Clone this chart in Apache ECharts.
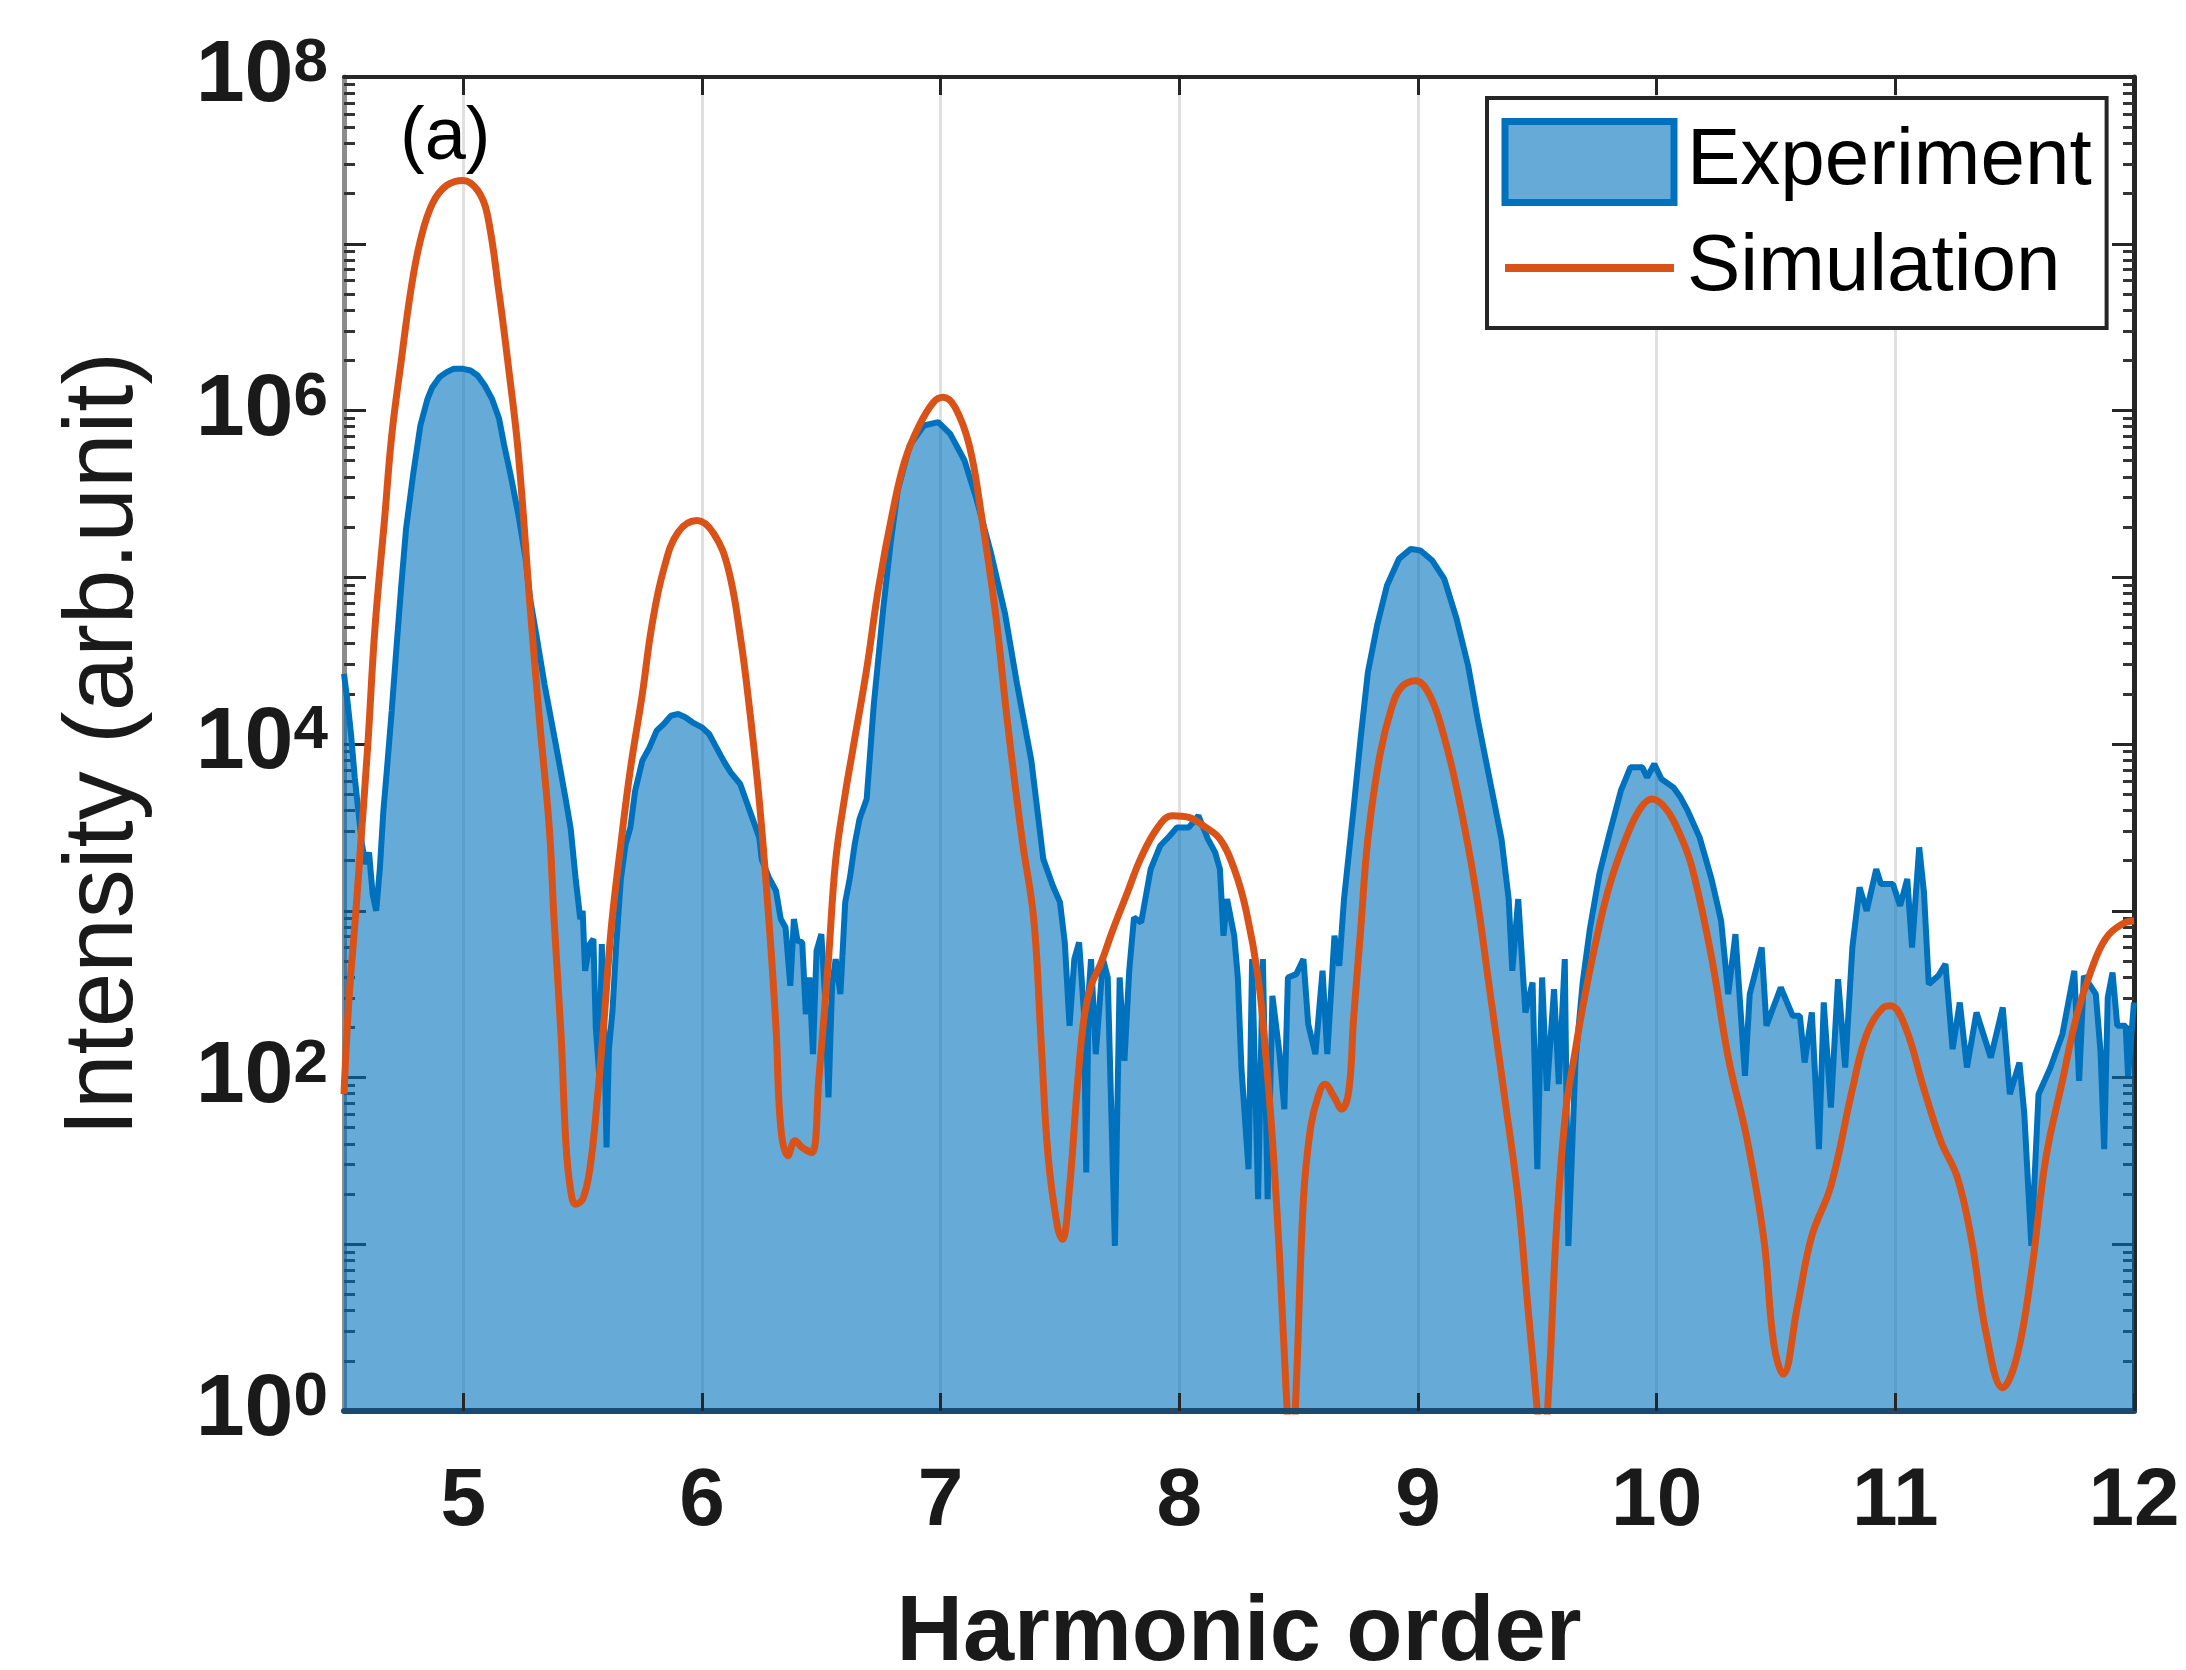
<!DOCTYPE html>
<html>
<head>
<meta charset="utf-8">
<script src="https://cdn.jsdelivr.net/npm/echarts@6/dist/echarts.min.js"></script>
<style>
  html, body { margin: 0; padding: 0; background: #fff; }
  #chart { width: 2186px; height: 1670px; }
</style>
</head>
<body>
<div id="chart"></div>
<script>
// harmonic order ticks and intensity decades (exponents of 10)
const harmonicTicks = [5, 6, 7, 8, 9, 10, 11, 12];
const decadeLabels = [0, 2, 4, 6, 8];
const decadeTicks = [0, 1, 2, 3, 4, 5, 6, 7, 8];

// Experiment: harmonic order, log10(intensity)
const expOrder = [
  4.500, 4.515, 4.530, 4.545, 4.560, 4.575, 4.590, 4.605, 4.620, 4.635, 4.650, 4.665, 4.680, 4.700, 4.720, 4.740,
  4.760, 4.790, 4.820, 4.850, 4.870, 4.900, 4.930, 4.960, 5.000, 5.030, 5.060, 5.090, 5.120, 5.150, 5.170, 5.200,
  5.230, 5.260, 5.280, 5.310, 5.340, 5.370, 5.400, 5.430, 5.450, 5.470, 5.490, 5.500, 5.510, 5.530, 5.545, 5.555,
  5.570, 5.580, 5.590, 5.600, 5.610, 5.625, 5.640, 5.660, 5.680, 5.700, 5.720, 5.750, 5.780, 5.810, 5.840, 5.870,
  5.900, 5.930, 5.960, 6.000, 6.030, 6.060, 6.090, 6.120, 6.160, 6.200, 6.240, 6.250, 6.280, 6.310, 6.330, 6.350,
  6.370, 6.385, 6.400, 6.420, 6.435, 6.450, 6.465, 6.480, 6.500, 6.515, 6.530, 6.545, 6.560, 6.580, 6.600, 6.620,
  6.640, 6.660, 6.690, 6.720, 6.760, 6.790, 6.820, 6.870, 6.930, 6.990, 7.040, 7.100, 7.150, 7.210, 7.270, 7.320,
  7.380, 7.430, 7.470, 7.500, 7.520, 7.540, 7.560, 7.580, 7.600, 7.610, 7.620, 7.630, 7.650, 7.680, 7.700, 7.730,
  7.750, 7.770, 7.790, 7.810, 7.840, 7.880, 7.920, 7.960, 7.990, 8.040, 8.080, 8.120, 8.150, 8.170, 8.185, 8.200,
  8.230, 8.245, 8.260, 8.290, 8.305, 8.330, 8.350, 8.370, 8.390, 8.420, 8.440, 8.455, 8.490, 8.520, 8.540, 8.570,
  8.600, 8.620, 8.650, 8.670, 8.690, 8.730, 8.760, 8.790, 8.830, 8.870, 8.920, 8.970, 9.010, 9.060, 9.110, 9.160,
  9.210, 9.250, 9.300, 9.350, 9.380, 9.395, 9.420, 9.450, 9.480, 9.500, 9.520, 9.540, 9.570, 9.590, 9.615, 9.630,
  9.660, 9.690, 9.720, 9.760, 9.800, 9.850, 9.890, 9.940, 9.960, 9.990, 10.020, 10.070, 10.100, 10.130, 10.180, 10.230,
  10.270, 10.300, 10.330, 10.370, 10.390, 10.440, 10.460, 10.520, 10.570, 10.600, 10.620, 10.650, 10.680, 10.700, 10.730, 10.760,
  10.790, 10.820, 10.850, 10.880, 10.920, 10.940, 10.990, 11.020, 11.050, 11.070, 11.100, 11.120, 11.140, 11.180, 11.210, 11.240,
  11.270, 11.300, 11.340, 11.400, 11.450, 11.480, 11.520, 11.540, 11.570, 11.600, 11.650, 11.700, 11.750, 11.770, 11.790, 11.840,
  11.860, 11.875, 11.890, 11.910, 11.930, 11.965, 11.975, 12.000
];
const expLog10 = [
  4.42, 4.25, 4.05, 3.80, 3.60, 3.40, 3.28, 3.35, 3.10, 3.00, 3.25, 3.60, 3.85, 4.20, 4.58, 4.95,
  5.29, 5.62, 5.91, 6.07, 6.14, 6.20, 6.23, 6.25, 6.25, 6.24, 6.21, 6.15, 6.07, 5.95, 5.80, 5.60,
  5.38, 5.12, 4.87, 4.62, 4.36, 4.13, 3.90, 3.66, 3.49, 3.20, 2.95, 3.00, 2.64, 2.80, 2.83, 2.30,
  2.00, 2.80, 2.35, 1.58, 2.17, 2.40, 2.78, 3.19, 3.40, 3.50, 3.72, 3.90, 3.98, 4.08, 4.12, 4.17,
  4.18, 4.16, 4.13, 4.10, 4.06, 3.98, 3.90, 3.83, 3.76, 3.60, 3.44, 3.31, 3.20, 3.12, 2.95, 2.90,
  2.55, 2.95, 2.82, 2.81, 2.38, 2.60, 2.14, 2.76, 2.86, 2.50, 1.88, 2.55, 2.71, 2.50, 3.05, 3.20,
  3.40, 3.55, 3.67, 4.24, 4.82, 5.20, 5.52, 5.79, 5.91, 5.93, 5.86, 5.70, 5.47, 5.15, 4.78, 4.36,
  3.90, 3.31, 3.15, 3.05, 2.81, 2.31, 2.71, 2.81, 2.40, 1.43, 2.50, 2.71, 2.14, 2.71, 2.60, 0.99,
  2.60, 2.10, 2.64, 2.96, 2.93, 3.25, 3.39, 3.45, 3.50, 3.50, 3.57, 3.43, 3.35, 3.25, 2.85, 3.07,
  2.85, 2.60, 2.06, 1.45, 2.71, 1.27, 2.71, 1.27, 2.49, 2.14, 1.81, 2.60, 2.62, 2.71, 2.32, 2.14,
  2.64, 2.14, 2.85, 2.67, 3.07, 3.61, 4.04, 4.43, 4.72, 4.95, 5.11, 5.17, 5.16, 5.10, 4.99, 4.76,
  4.47, 4.15, 3.79, 3.43, 3.07, 2.64, 3.07, 2.39, 2.57, 1.45, 2.60, 1.92, 2.53, 1.96, 2.71, 0.99,
  2.10, 2.57, 2.89, 3.22, 3.45, 3.72, 3.86, 3.86, 3.80, 3.88, 3.79, 3.74, 3.68, 3.60, 3.44, 3.19,
  2.94, 2.50, 2.86, 2.01, 2.50, 2.78, 2.31, 2.54, 2.37, 2.37, 2.09, 2.39, 1.57, 2.45, 1.82, 2.59,
  2.06, 2.78, 3.14, 3.00, 3.25, 3.16, 3.16, 3.03, 3.19, 2.78, 3.38, 3.11, 2.56, 2.61, 2.68, 2.17,
  2.45, 2.06, 2.39, 2.12, 2.42, 1.90, 2.09, 1.79, 0.99, 1.90, 2.06, 2.26, 2.64, 1.98, 2.61, 2.50,
  2.15, 1.57, 2.48, 2.63, 2.31, 2.31, 2.01, 2.45
];

// Simulation: harmonic order, log10(intensity)
const simOrder = [
  4.50, 4.52, 4.55, 4.57, 4.60, 4.63, 4.67, 4.70, 4.74, 4.78, 4.82, 4.87, 4.93, 5.00, 5.06, 5.10,
  5.15, 5.19, 5.23, 5.28, 5.32, 5.36, 5.38, 5.41, 5.43, 5.45, 5.47, 5.50, 5.53, 5.56, 5.59, 5.62,
  5.66, 5.70, 5.75, 5.79, 5.84, 5.90, 5.98, 6.05, 6.11, 6.16, 6.20, 6.24, 6.28, 6.31, 6.33, 6.36,
  6.39, 6.42, 6.46, 6.49, 6.53, 6.56, 6.60, 6.63, 6.69, 6.74, 6.80, 6.85, 6.91, 6.97, 7.01, 7.06,
  7.12, 7.17, 7.23, 7.28, 7.34, 7.39, 7.42, 7.45, 7.49, 7.51, 7.54, 7.57, 7.60, 7.63, 7.67, 7.72,
  7.78, 7.84, 7.91, 7.97, 8.04, 8.10, 8.17, 8.23, 8.28, 8.33, 8.36, 8.39, 8.42, 8.45, 8.47, 8.49,
  8.52, 8.55, 8.58, 8.61, 8.65, 8.68, 8.71, 8.73, 8.76, 8.79, 8.84, 8.89, 8.93, 8.99, 9.05, 9.11,
  9.17, 9.24, 9.30, 9.37, 9.42, 9.46, 9.50, 9.52, 9.55, 9.58, 9.62, 9.66, 9.69, 9.74, 9.80, 9.87,
  9.93, 9.98, 10.04, 10.10, 10.15, 10.23, 10.30, 10.38, 10.45, 10.49, 10.53, 10.59, 10.65, 10.73, 10.82, 10.88,
  10.95, 10.98, 11.04, 11.12, 11.19, 11.26, 11.32, 11.38, 11.45, 11.51, 11.57, 11.63, 11.70, 11.76, 11.82, 11.88,
  11.95, 12.00
];
const simLog10 = [
  1.90, 2.45, 3.00, 3.40, 4.00, 4.70, 5.35, 5.85, 6.30, 6.72, 7.02, 7.24, 7.35, 7.38, 7.32, 7.18,
  6.70, 6.25, 5.75, 4.82, 4.13, 3.50, 2.95, 2.24, 1.60, 1.32, 1.24, 1.27, 1.45, 1.85, 2.35, 2.90,
  3.40, 3.85, 4.30, 4.71, 5.05, 5.27, 5.34, 5.26, 5.05, 4.65, 4.20, 3.66, 2.95, 2.30, 1.70, 1.53,
  1.62, 1.58, 1.55, 2.00, 2.71, 3.30, 3.70, 3.95, 4.45, 4.94, 5.40, 5.70, 5.91, 6.05, 6.08, 6.02,
  5.79, 5.38, 4.78, 4.13, 3.44, 2.95, 2.24, 1.53, 1.10, 1.03, 1.34, 1.90, 2.35, 2.55, 2.68, 2.88,
  3.10, 3.32, 3.50, 3.57, 3.56, 3.51, 3.43, 3.25, 3.00, 2.60, 2.17, 1.63, 0.92, 0.05, -0.40, 0.15,
  1.27, 1.70, 1.88, 1.96, 1.88, 1.81, 1.92, 2.35, 2.89, 3.43, 3.93, 4.22, 4.34, 4.38, 4.29, 4.04,
  3.68, 3.14, 2.53, 1.81, 1.27, 0.63, 0.00, -0.40, 0.20, 1.09, 1.81, 2.17, 2.42, 2.78, 3.14, 3.43,
  3.61, 3.67, 3.61, 3.45, 3.25, 2.72, 2.12, 1.62, 1.02, 0.41, 0.22, 0.63, 1.05, 1.35, 1.93, 2.26,
  2.42, 2.43, 2.31, 1.93, 1.62, 1.40, 1.02, 0.47, 0.14, 0.33, 0.83, 1.51, 1.98, 2.37, 2.64, 2.83,
  2.92, 2.94
];

const FONT = 'Liberation Sans';
const INK = '#1a1a1a';

// log-style minor ticks (2..9 within every decade)
const minorTicks = [];
for (let n = 0; n < 8; n++) {
  for (let k = 2; k <= 9; k++) minorTicks.push(n + Math.log10(k));
}

const expData = expOrder.map((x, i) => [x, expLog10[i]]);
const simData = simOrder.map((x, i) => [x, simLog10[i]]);

const chart = echarts.init(document.getElementById('chart'), null, { renderer: 'canvas' });

function yAxisBase(position) {
  return {
    type: 'value', position: position, min: 0, max: 8,
    splitLine: { show: false },
    axisLabel: { show: false },
  };
}

const option = {
  backgroundColor: '#ffffff',
  animation: false,
  title: {
    text: '(a)', left: 400, top: 102, padding: 0,
    textStyle: { fontFamily: FONT, fontSize: 74, fontWeight: 'normal', color: '#000' }
  },
  legend: {
    orient: 'vertical', left: 1487, top: 98,
    padding: [20, 15, 20, 14],
    itemWidth: 169, itemHeight: 81, itemGap: 22,
    backgroundColor: '#ffffff', borderColor: '#262626', borderWidth: 4, borderRadius: 0,
    textStyle: { fontFamily: FONT, fontSize: 80, color: '#000', padding: [0, 0, 0, 8] },
    data: [
      { name: 'Experiment', icon: 'rect',
        itemStyle: { color: 'rgba(0,114,189,0.6)', borderColor: '#0072BD', borderWidth: 7 } },
      { name: 'Simulation',
        itemStyle: { opacity: 0 },
        lineStyle: { color: '#D95319', width: 8 } }
    ]
  },
  grid: { left: 344, right: 52, top: 77, bottom: 259, containLabel: false, outerBoundsMode: 'none' },
  xAxis: [
    {
      type: 'value', position: 'bottom', min: 4.5, max: 12, z: 5,
      axisLine: { show: true, onZero: false, lineStyle: { color: '#1b4a6e', width: 6 } },
      axisTick: { show: true, inside: true, length: 18, customValues: harmonicTicks,
                  lineStyle: { color: '#262626', width: 3 } },
      axisLabel: { customValues: harmonicTicks, fontFamily: FONT, fontSize: 82, fontWeight: 'bold',
                   color: INK, margin: 50 },
      splitLine: { show: false },
      name: 'Harmonic order', nameLocation: 'middle', nameGap: 178,
      nameTextStyle: { fontFamily: FONT, fontSize: 92, fontWeight: 'bold', color: INK }
    },
    {
      type: 'value', position: 'top', min: 4.5, max: 12,
      axisLine: { show: true, onZero: false, lineStyle: { color: '#262626', width: 4 } },
      axisTick: { show: true, inside: true, length: 18, customValues: harmonicTicks,
                  lineStyle: { color: '#262626', width: 3 } },
      axisLabel: { show: false },
      splitLine: { show: true, lineStyle: { color: '#e0e0e0', width: 3 } }
    }
  ],
  yAxis: [
    Object.assign(yAxisBase('left'), {
      axisLine: { show: true, onZero: false, lineStyle: { color: '#8c8c8c', width: 5 } },
      axisTick: { show: true, inside: true, length: 22, customValues: decadeTicks,
                  lineStyle: { color: '#262626', width: 3 } },
      axisLabel: {
        show: true, customValues: decadeLabels, margin: 16,
        formatter: v => '{b|10}{s|' + Math.round(v) + '}',
        rich: {
          b: { fontFamily: FONT, fontSize: 88, fontWeight: 'bold', color: INK,
               lineHeight: 88, padding: [27, 0, 0, 0], verticalAlign: 'bottom' },
          s: { fontFamily: FONT, fontSize: 62, fontWeight: 'bold', color: INK,
               lineHeight: 62, verticalAlign: 'top' }
        }
      },
      name: 'Intensity (arb.unit)', nameLocation: 'middle', nameGap: 190,
      nameTextStyle: { fontFamily: FONT, fontSize: 98, fontWeight: 'normal', color: INK }
    }),
    Object.assign(yAxisBase('left'), {
      axisLine: { show: false },
      axisTick: { show: true, inside: true, length: 11, customValues: minorTicks,
                  lineStyle: { color: '#333333', width: 3 } }
    }),
    Object.assign(yAxisBase('right'), {
      axisLine: { show: true, onZero: false, lineStyle: { color: '#262626', width: 5 } },
      axisTick: { show: true, inside: true, length: 22, customValues: decadeTicks,
                  lineStyle: { color: '#262626', width: 3 } }
    }),
    Object.assign(yAxisBase('right'), {
      axisLine: { show: false },
      axisTick: { show: true, inside: true, length: 11, customValues: minorTicks,
                  lineStyle: { color: '#333333', width: 3 } }
    })
  ],
  series: [
    {
      name: 'Experiment', type: 'line', xAxisIndex: 0, yAxisIndex: 0,
      data: expData, symbol: 'none', smooth: false, z: 2,
      itemStyle: { color: '#0072BD' },
      lineStyle: { color: '#0072BD', width: 6 },
      areaStyle: { color: '#0072BD', opacity: 0.6, origin: 'start' }
    },
    {
      name: 'Simulation', type: 'line', xAxisIndex: 0, yAxisIndex: 0,
      data: simData, symbol: 'none', smooth: 0.4, z: 3,
      itemStyle: { color: '#D95319' },
      lineStyle: { color: '#D95319', width: 7 }
    }
  ]
};

chart.setOption(option);
</script>
</body>
</html>
